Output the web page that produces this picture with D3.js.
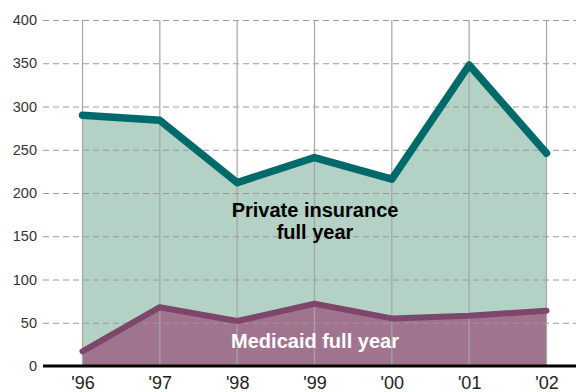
<!DOCTYPE html>
<html>
<head>
<meta charset="utf-8">
<script src="https://cdn.jsdelivr.net/npm/d3@7"></script>
<style>
  html, body { margin: 0; padding: 0; background: #fff; }
  svg { display: block; }
</style>
</head>
<body>
<svg id="chart" width="576" height="392"></svg>
<script>
// Years on the x axis and the two series (thousands)
const years = ["'96", "'97", "'98", "'99", "'00", "'01", "'02"];
const privateFullYear = [290, 284, 212, 241, 216, 348, 246];
const medicaidFullYear = [17, 68, 52, 72, 55, 58, 64];
const yTicks = [0, 50, 100, 150, 200, 250, 300, 350, 400];

const svg = d3.select("#chart");
const plotLeft = 43, plotRight = 576, plotTop = 20, plotBottom = 366;

const x = d3.scalePoint().domain(years).range([82.5, 546.5]);
const y = d3.scaleLinear().domain([0, 400]).range([plotBottom, plotTop]);

const rows = years.map((yr, i) => ({ yr, p: privateFullYear[i], m: medicaidFullYear[i] }));

// Filled areas
const areaP = d3.area().x(d => x(d.yr)).y0(y(0)).y1(d => y(d.p));
const areaM = d3.area().x(d => x(d.yr)).y0(y(0)).y1(d => y(d.m));
svg.append("path").datum(rows).attr("d", areaP).attr("fill", "#b4d1c6");
svg.append("path").datum(rows).attr("d", areaM).attr("fill", "#a0748f");

// Horizontal dashed gridlines with labels
const yAxis = d3.axisLeft(y).tickValues(yTicks).tickSize(-(plotRight - plotLeft)).tickPadding(6);
const gy = svg.append("g").attr("transform", `translate(${plotLeft},0)`).call(yAxis);
gy.select(".domain").remove();
gy.selectAll(".tick line")
  .attr("stroke", "#9a9a9a").attr("stroke-width", 1).attr("stroke-dasharray", "6,4");
gy.selectAll(".tick text")
  .attr("x", -6)
  .attr("fill", "#333").attr("font-family", "Liberation Sans, Arial, sans-serif").attr("font-size", 14.5);
gy.selectAll(".tick").filter(d => d === 0).select("line").remove();

// Vertical year lines
svg.append("g").selectAll("line").data(years).join("line")
  .attr("x1", d => x(d)).attr("x2", d => x(d))
  .attr("y1", y(400)).attr("y2", y(0))
  .attr("stroke", "#a5a5a5").attr("stroke-width", 1.2);

// Series lines
const lineP = d3.line().x(d => x(d.yr)).y(d => y(d.p));
const lineM = d3.line().x(d => x(d.yr)).y(d => y(d.m));
svg.append("path").datum(rows).attr("d", lineP)
  .attr("fill", "none").attr("stroke", "#006a6b").attr("stroke-width", 7.5)
  .attr("stroke-linecap", "round").attr("stroke-linejoin", "round");
svg.append("path").datum(rows).attr("d", lineM)
  .attr("fill", "none").attr("stroke", "#7e466b").attr("stroke-width", 6)
  .attr("stroke-linecap", "round").attr("stroke-linejoin", "round");

// Baseline and x axis labels
const xAxis = d3.axisBottom(x).tickSize(0).tickPadding(10);
const gx = svg.append("g").attr("transform", `translate(0,${y(0)})`).call(xAxis);
gx.select(".domain").remove();
gx.selectAll(".tick text")
  .attr("fill", "#222").attr("font-family", "Liberation Sans, Arial, sans-serif").attr("font-size", 18);
svg.append("line").attr("x1", plotLeft).attr("x2", plotRight).attr("y1", y(0)).attr("y2", y(0))
  .attr("stroke", "#000").attr("stroke-width", 3);

// Series labels
const labFont = "'Liberation Sans Narrow', 'Arial Narrow', 'Liberation Sans', sans-serif";
const pl = svg.append("text").attr("text-anchor", "middle")
  .attr("font-family", labFont).attr("font-weight", "bold").attr("font-size", 20).attr("fill", "#000");
pl.append("tspan").attr("x", 315).attr("y", 217).text("Private insurance");
pl.append("tspan").attr("x", 315).attr("y", 239).text("full year");
svg.append("text").attr("text-anchor", "middle").attr("x", 315).attr("y", 348)
  .attr("font-family", labFont).attr("font-weight", "bold").attr("font-size", 20).attr("fill", "#fff")
  .text("Medicaid full year");
</script>
</body>
</html>
